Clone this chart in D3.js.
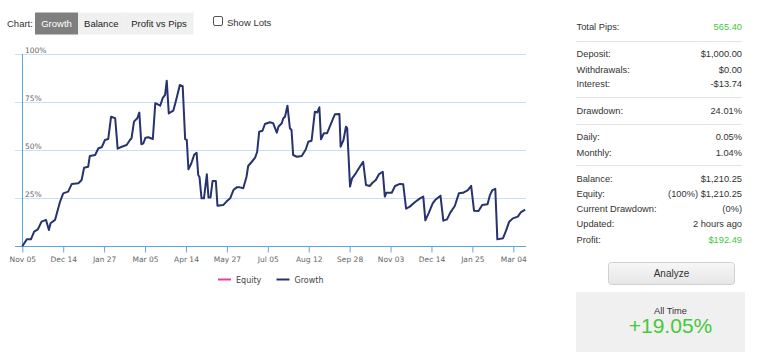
<!DOCTYPE html>
<html><head><meta charset="utf-8">
<script src="https://cdn.jsdelivr.net/npm/d3@7"></script>
<style>
body{margin:0;background:#fff;}
svg{display:block;font-family:"Liberation Sans",Arial,sans-serif;}
</style>
</head><body>
<svg id="c" width="760" height="355"></svg>
<script>
// ---- data ----
const tabs = ["Growth", "Balance", "Profit vs Pips"];
const tickLabels = ["Nov 05","Dec 14","Jan 27","Mar 05","Apr 14","May 27","Jul 05","Aug 12","Sep 28","Nov 03","Dec 14","Jan 25","Mar 04"];
const tickIdx = [0,10,20,30,40,50,60,70,80,90,100,110,120];
const yTicks = [0,25,50,75,100];
const session = [0,1.1,2.1,2.9,3.8,4.7,5.8,6.5,6.9,8.0,9.2,10.0,11.2,12.1,13.7,14.5,15.1,16.1,16.5,17.8,18.6,19.4,20.2,21.0,21.7,22.7,23.3,24.3,25.5,26.3,26.7,27.3,28.1,28.6,29.1,29.6,30.1,30.8,31.9,32.5,33.7,34.3,34.9,35.3,35.8,36.9,37.6,38.5,39.2,39.8,40.2,40.6,41.3,42.0,42.6,43.0,43.3,43.8,44.4,45.1,45.5,46.0,46.5,47.3,47.7,49.1,49.9,50.8,51.6,52.4,53.2,54.0,54.8,55.2,56.1,56.9,57.4,57.9,58.7,59.3,60.5,61.3,62.2,62.6,63.4,63.8,64.2,64.8,65.4,65.8,66.2,67.1,68.3,69.3,69.9,70.7,71.5,72.1,72.6,73.0,73.7,74.5,75.0,75.9,76.4,77.5,77.8,78.5,79.1,79.4,80.1,80.6,81.5,82.5,83.3,84.0,84.9,85.6,86.4,87.2,88.1,88.6,89.0,90.3,91.1,92.3,93.1,93.8,94.7,96.0,97.2,98.0,98.5,99.3,100.3,100.9,102.2,102.9,103.8,104.6,105.7,106.7,107.7,108.9,109.7,110.4,111.5,112.4,113.7,114.3,114.9,115.6,116.1,117.5,118.2,119.0,119.9,121.1,121.9,122.9];
const growth = [0,3.6,3.6,7.6,8.8,12.8,13.7,8.5,12,13.7,23,27.5,28.4,32.4,32.7,34.4,40.8,41.3,46.9,47.4,50.9,51.4,55.2,55.7,67.3,66.5,50.7,51.7,52.6,55.2,56.1,64.7,66.5,69.4,53,53.5,56.4,56.6,55.7,74.3,73,76.9,78.6,86,69,70.4,76,83.8,83.2,55.6,55.2,40,43,47.5,48.5,37,36,24.9,24.9,37.4,25.4,25.4,33.9,33.9,21.1,21.4,23.2,24.9,29.2,30.6,30.6,30.1,36.1,41.7,43.9,46,49.1,59.5,60,63.5,64.4,63.9,59,62.1,63.9,66.5,67.3,73,61.3,60.4,47.4,46.5,46.9,50.4,54.3,54.8,69.9,69.5,72.2,55.6,58.7,58.7,61.3,66,68.5,68.7,51.7,55.2,62.1,61.3,31,35.3,37.9,41.3,43.9,31.8,31.3,33,34.4,37.5,38.7,25.8,27.8,27.8,31.3,32.4,32.2,19.5,20.6,23,24.9,25.8,13.5,17.1,22.3,24,26.3,13.3,14,17.5,20.9,27.5,27.8,29.2,31.4,18.5,18.3,21.4,21.8,26.6,29.2,29.8,3.6,4.2,8,12.8,14.5,15.4,17.8,19.05];
const legendNames = ["Equity","Growth"];
const statGroups = [
  [["Total Pips:","565.40",true]],
  [["Deposit:","$1,000.00",false],["Withdrawals:","$0.00",false],["Interest:","-$13.74",false]],
  [["Drawdown:","24.01%",false]],
  [["Daily:","0.05%",false],["Monthly:","1.04%",false]],
  [["Balance:","$1,210.25",false],["Equity:","(100%) $1,210.25",false],["Current Drawdown:","(0%)",false],["Updated:","2 hours ago",false],["Profit:","$192.49",true]]
];
const allTimeLabel = "All Time";
const allTimeValue = "+19.05%";

// ---- drawing ----
const svg = d3.select("#c");
const axisFont = '"DejaVu Sans", Verdana, sans-serif';
const navy = "#27326f", green = "#44c93a", axisBlue = "#5aa7dd", gridBlue = "#c9defa";

// tabs
svg.append("text").attr("x", 7).attr("y", 26.5).attr("font-size", 9.5).attr("fill", "#333").text("Chart:");
const tabW = [43, 46.5, 69];
let tx = 35;
tabs.forEach((t, i) => {
  svg.append("rect").attr("x", tx).attr("y", 12.5).attr("width", tabW[i]).attr("height", 22)
    .attr("fill", i === 0 ? "#7f7f7f" : "#f0f0f0");
  svg.append("text").attr("x", tx + tabW[i] / 2).attr("y", 27).attr("text-anchor", "middle")
    .attr("font-size", 9.5).attr("fill", i === 0 ? "#fff" : "#222").text(t);
  tx += tabW[i];
});
svg.append("rect").attr("x", 213.5).attr("y", 16.5).attr("width", 9).attr("height", 9).attr("rx", 1.5)
  .attr("fill", "#fff").attr("stroke", "#555");
svg.append("text").attr("x", 227).attr("y", 26).attr("font-size", 9.5).attr("fill", "#333").text("Show Lots");

// scales
const x = d3.scaleLinear().domain([0, 120]).range([22.3, 513.3]);
const y = d3.scaleLinear().domain([0, 100]).range([246.3, 53.7]);

// grid
const g = svg.append("g");
g.selectAll("line.grid").data(yTicks.filter(d => d > 0)).join("line")
  .attr("x1", 15).attr("x2", 526).attr("y1", d => Math.round(y(d)) + 0.5).attr("y2", d => Math.round(y(d)) + 0.5)
  .attr("stroke", gridBlue).attr("stroke-width", 1);
g.selectAll("text.ylab").data(yTicks.filter(d => d > 0)).join("text")
  .attr("x", 25).attr("y", d => Math.round(y(d)) - 1.5)
  .attr("font-family", axisFont).attr("font-size", 7.5).attr("fill", "#666").text(d => d + "%");

// y axis line
g.append("line").attr("x1", 22.5).attr("x2", 22.5).attr("y1", Math.round(y(100))).attr("y2", Math.round(y(0)) + 0.5)
  .attr("stroke", axisBlue).attr("stroke-width", 1);

// x axis
const xAxis = d3.axisBottom(x).tickValues(tickIdx).tickSize(6).tickPadding(4)
  .tickFormat((d, i) => tickLabels[i]);
const ax = svg.append("g").attr("transform", `translate(0,${Math.round(y(0)) + 0.5})`).call(xAxis);
ax.select(".domain").attr("d", `M15,0H526`).attr("stroke", axisBlue);
ax.selectAll(".tick line").attr("stroke", axisBlue);
ax.selectAll(".tick text").attr("font-family", axisFont).attr("font-size", 7.5).attr("fill", "#666");

// growth line
const line = d3.line().x(d => x(d[0])).y(d => y(d[1]));
svg.append("path").datum(session.map((s, i) => [s, growth[i]]))
  .attr("d", line).attr("fill", "none").attr("stroke", navy).attr("stroke-width", 2)
  .attr("stroke-linejoin", "round");

// legend
const legColors = ["#e0409a", navy];
const legX = [218, 276.5];
legendNames.forEach((n, i) => {
  svg.append("line").attr("x1", legX[i]).attr("x2", legX[i] + 13).attr("y1", 279.5).attr("y2", 279.5)
    .attr("stroke", legColors[i]).attr("stroke-width", 2);
  svg.append("text").attr("x", legX[i] + 18).attr("y", 282.5).attr("font-family", axisFont)
    .attr("font-size", 8).attr("fill", "#444").text(n);
});

// stats panel
const rowY = [[30],[57,72.5,87],[113.5],[140,156],[182,197,212,227,242.5]];
const sepY = [41.5, 97.5, 124.5, 165.5];
statGroups.forEach((grp, gi) => {
  grp.forEach((r, ri) => {
    svg.append("text").attr("x", 576.5).attr("y", rowY[gi][ri]).attr("font-size", 9.3).attr("fill", "#333").text(r[0]);
    svg.append("text").attr("x", 742).attr("y", rowY[gi][ri]).attr("font-size", 9.3).attr("text-anchor", "end")
      .attr("fill", r[2] ? green : "#333").text(r[1]);
  });
});
sepY.forEach(s => svg.append("line").attr("x1", 576).attr("x2", 742).attr("y1", s).attr("y2", s)
  .attr("stroke", "#e4e4e4").attr("stroke-width", 1));

// analyze button
const grad = svg.append("defs").append("linearGradient").attr("id", "bg").attr("x1", 0).attr("x2", 0).attr("y1", 0).attr("y2", 1);
grad.append("stop").attr("offset", "0%").attr("stop-color", "#f7f7f7");
grad.append("stop").attr("offset", "100%").attr("stop-color", "#e6e6e6");
svg.append("rect").attr("x", 608.5).attr("y", 262.5).attr("width", 126).attr("height", 22).attr("rx", 3)
  .attr("fill", "url(#bg)").attr("stroke", "#d0d0d0");
svg.append("text").attr("x", 671.5).attr("y", 277).attr("text-anchor", "middle").attr("font-size", 10)
  .attr("fill", "#333").text("Analyze");

// all time box
svg.append("rect").attr("x", 576).attr("y", 292).attr("width", 169).attr("height", 60).attr("fill", "#f0f0f0");
svg.append("text").attr("x", 670.5).attr("y", 313.5).attr("text-anchor", "middle").attr("font-size", 9.3)
  .attr("fill", "#333").text(allTimeLabel);
svg.append("text").attr("x", 670.5).attr("y", 333).attr("text-anchor", "middle").attr("font-size", 21)
  .attr("fill", green).text(allTimeValue);
</script>
</body></html>
